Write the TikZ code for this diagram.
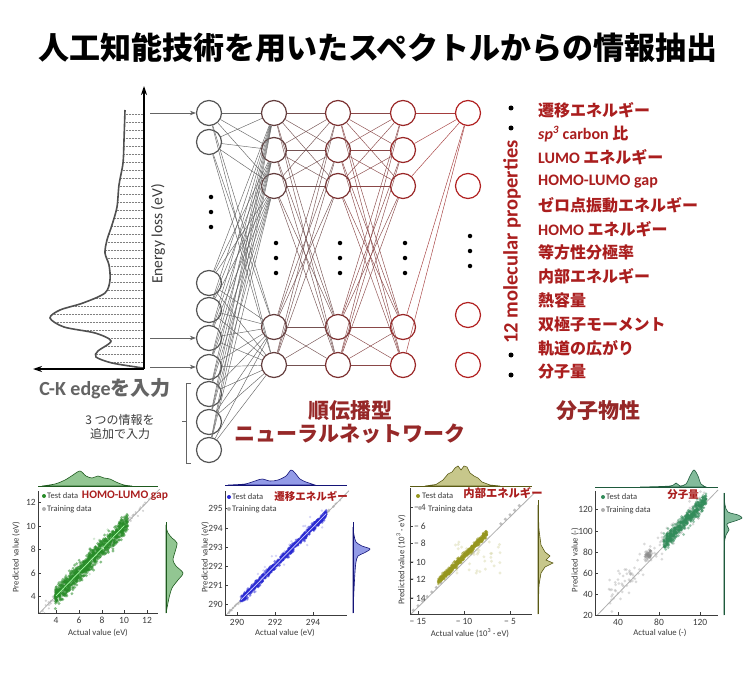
\documentclass[tikz,border=0pt]{standalone}
\usepackage{fontspec}
\setmainfont{Carlito}
\newfontfamily\jp{Noto Sans CJK JP}
\usetikzlibrary{arrows.meta}
\definecolor{c1}{RGB}{85,85,85}
\definecolor{c2}{RGB}{100,62,62}
\definecolor{c3}{RGB}{125,50,50}
\definecolor{c4}{RGB}{155,40,40}
\definecolor{c5}{RGB}{178,34,34}
\definecolor{propred}{RGB}{170,30,30}
\definecolor{netred}{RGB}{150,40,40}
\definecolor{ckgray}{RGB}{100,100,100}
\definecolor{axgray}{RGB}{60,60,60}
\definecolor{trgray}{RGB}{175,175,175}
\definecolor{tgreen}{RGB}{40,140,40}
\definecolor{mgreen}{RGB}{110,180,110}
\definecolor{dgreen}{RGB}{30,90,30}
\definecolor{tblue}{RGB}{40,40,210}
\definecolor{mblue}{RGB}{120,130,225}
\definecolor{dblue}{RGB}{20,20,120}
\definecolor{tolive}{RGB}{150,150,30}
\definecolor{molive}{RGB}{185,185,110}
\definecolor{dolive}{RGB}{90,90,20}
\definecolor{tsea}{RGB}{50,140,90}
\definecolor{msea}{RGB}{100,170,130}
\definecolor{dsea}{RGB}{30,90,60}
\tikzset{
 neuron/.style={circle, draw, fill=white, line width=1.2pt, minimum size=25pt, inner sep=0pt},
 wire/.style={line width=0.45pt},
 proptext/.style={anchor=west, inner sep=0pt, text=propred, font=\fontsize{16}{16}\selectfont\bfseries},
 ticklab/.style={font=\fontsize{9.5}{9.5}\selectfont, text=axgray, inner sep=1pt},
 axlab/.style={font=\fontsize{8.7}{8.7}\selectfont, text=axgray, inner sep=0pt},
 legtext/.style={anchor=west, font=\fontsize{8.5}{8.5}\selectfont, text=axgray, inner sep=0pt},
 ptitle/.style={text=propred, inner sep=0pt},
 nnarrow/.style={-{Stealth[length=6pt,width=4.5pt]}, line width=0.8pt, draw=ckgray},
 bullet/.style={circle, fill=black, inner sep=0pt, minimum size=5pt},
 ndot/.style={circle, fill=black, inner sep=0pt, minimum size=4.5pt},
 axline/.style={draw=axgray, line width=0.7pt},
}
\begin{document}
\begin{tikzpicture}[x=1pt,y=-1pt]
\useasboundingbox (0,0) rectangle (750,682);
\fill[white] (0,0) rectangle (750,682);
\pgfmathsetseed{7}

% ---------------- title
\node (title) at (378,48) {\fontsize{31}{31}\jp\bfseries 人工知能技術を用いたスペクトルからの情報抽出};

% ---------------- spectrum
\begin{scope}
\clip plot[smooth] coordinates {(125,110) (124,140) (123,163) (119,185) (117,207) (112,225) (107,240) (105,253) (109,265) (110,280) (105,293) (83,303) (60,310) (50,318) (64,327) (95,333) (111,341) (98,351) (96,357) (112,363) (143,368)} -- (144,368) -- (144,110) -- cycle;
\foreach \yy in {114,122,...,366} \draw[gray, densely dotted, line width=0.5pt] (40,\yy) -- (144,\yy);
\end{scope}
\draw[ckgray!80!black, line width=1.6pt] plot[smooth] coordinates {(125,110) (124,140) (123,163) (119,185) (117,207) (112,225) (107,240) (105,253) (109,265) (110,280) (105,293) (83,303) (60,310) (50,318) (64,327) (95,333) (111,341) (98,351) (96,357) (112,363) (143,368)};
\coordinate (origin) at (144,369);
\coordinate (ytip) at (144,86);
\coordinate (xtip) at (33,369);
\draw[-{Stealth[length=9pt,width=6pt]}, line width=1.3pt] (origin) -- (ytip);
\draw[-{Stealth[length=9pt,width=6pt]}, line width=1.3pt] (origin) -- (xtip);
\node[rotate=90, font=\fontsize{15.5}{15.5}\selectfont, text=axgray, inner sep=0pt] (elabel) at (158,234) {Energy loss (eV)};

% ---------------- network nodes
\foreach \y [count=\i] in {113,142,283,310,338,367,394,422,450}
  \node[neuron, draw=c1] (n1-\i) at (209,\y) {};
\foreach \y [count=\i] in {113,150,186,327,365}{
  \node[neuron, draw=c2] (n2-\i) at (274,\y) {};
  \node[neuron, draw=c3] (n3-\i) at (338,\y) {};
  \node[neuron, draw=c4] (n4-\i) at (403,\y) {};
}
\foreach \y [count=\i] in {113,186,315,365}
  \node[neuron, draw=c5] (n5-\i) at (468,\y) {};

% wires
\foreach \i in {1,...,9} \foreach \j in {1,...,5} \draw[wire, draw=c1!90] (n1-\i) -- (n2-\j);
\foreach \i in {1,...,5} \foreach \j in {1,...,5} \draw[wire, draw=c2!90] (n2-\i) -- (n3-\j);
\foreach \i in {1,...,5} \foreach \j in {1,...,5} \draw[wire, draw=c3!90] (n3-\i) -- (n4-\j);
\foreach \i in {1,...,5} \draw[wire, draw=c4!90] (n4-\i) -- (n5-1);

% dots
\foreach \y in {197,212,227} \node[ndot] at (211,\y) {};
\foreach \x in {276,340,405} \foreach \y in {243,258,273} \node[ndot] at (\x,\y) {};
\foreach \y in {236,251,266} \node[ndot] at (470,\y) {};

% input arrows
\coordinate (a1) at (150,113);
\coordinate (a2) at (150,338);
\coordinate (a3) at (150,367);
\draw[nnarrow] (a1) -- (n1-1);
\draw[nnarrow] (a2) -- (n1-5);
\draw[nnarrow] (a3) -- (n1-6);

% input labels
\node[font=\fontsize{20}{20}\selectfont\bfseries, text=ckgray, inner sep=0pt] (ck) at (105,389) {C-K edge{\jp を入力}};
\draw[ckgray, line width=0.9pt] (191,383) -- (186,383) -- (186,463) -- (191,463);
\draw[ckgray, line width=0.9pt] (186,421) -- (182,421);
\node[font=\fontsize{12}{14.5}\selectfont\jp, text=axgray, align=center, inner sep=0pt] (extra) at (120,427) {3 つの情報を\\追加で入力};

\node[font=\fontsize{21}{21}\jp\bfseries, text=netred, inner sep=0pt] (nn1) at (350,411) {順伝播型};
\node[font=\fontsize{21}{21}\jp\bfseries, text=netred, inner sep=0pt] (nn2) at (350,434) {ニューラルネットワーク};
\node[font=\fontsize{21}{21}\jp\bfseries, text=netred, inner sep=0pt] (mol) at (598,411) {分子物性};

% ---------------- properties
\foreach \y in {108,128,355,375} \node[bullet] at (511,\y) {};
\node[rotate=90, font=\fontsize{20.5}{20.5}\selectfont\bfseries, text=propred, inner sep=0pt] (mp) at (512,242) {12 molecular properties};
\node[proptext] (p1) at (538,110) {\jp 遷移エネルギー};
\node[proptext] (p2) at (538,133.8) {\itshape sp\textsuperscript{3}\upshape{} carbon {\jp 比}};
\node[proptext] (p3) at (538,157.6) {LUMO {\jp エネルギー}};
\node[proptext] (p4) at (538,181.4) {HOMO-LUMO gap};
\node[proptext] (p5) at (538,205.2) {\jp ゼロ点振動エネルギー};
\node[proptext] (p6) at (538,229) {HOMO {\jp エネルギー}};
\node[proptext] (p7) at (538,252.8) {\jp 等方性分極率};
\node[proptext] (p8) at (538,276.6) {\jp 内部エネルギー};
\node[proptext] (p9) at (538,300.4) {\jp 熱容量};
\node[proptext] (p10) at (538,324.2) {\jp 双極子モーメント};
\node[proptext] (p11) at (538,348) {\jp 軌道の広がり};
\node[proptext] (p12) at (538,371.8) {\jp 分子量};

% ================= PLOT 1 : HOMO-LUMO gap
\begin{scope}
\clip (38,489) rectangle (160,613);
\draw[trgray, line width=0.8pt] (38,614.6) -- (160,488.8);
\foreach \i in {1,...,110}{
 \pgfmathsetmacro\a{2.8+9.6*rnd}
 \pgfmathsetmacro\p{\a+0.5*(rnd+rnd+rnd-1.5)}
 \fill[trgray, opacity=0.55] ({56+(\a-4)*11.4},{596-(\p-4)*11.75}) circle (1.2);
}
\foreach \i in {1,...,1000}{
 \pgfmathsetmacro\a{3.9+6.4*rnd}
 \pgfmathsetmacro\p{\a+0.7*(rnd+rnd+rnd+rnd-2)}
 \fill[tgreen, opacity=0.55] ({56+(\a-4)*11.4},{596-(\p-4)*11.75}) circle (1.6);
}
\foreach \i in {1,...,40}{
 \pgfmathsetmacro\a{4+6*rnd}
 \pgfmathsetmacro\p{\a+1.6*(rnd+rnd-1)}
 \fill[tgreen!60, opacity=0.35] ({56+(\a-4)*11.4},{596-(\p-4)*11.75}) circle (1.3);
}
\draw[green!35!white, line width=0.7pt] (56,596) -- (124.4,525.5);
\end{scope}
\draw[axline] (38,491) -- (38,613) -- (158,613);
\foreach \v/\y in {12/502,10/526,8/549,6/573,4/596}{
  \draw[axline] (38,\y) -- (41,\y);
  \node[ticklab, anchor=east] at (37,\y) {\v};}
\foreach \v/\x in {4/56,6/79,8/102,10/124,12/147}{
  \draw[axline] (\x,613) -- (\x,610);
  \node[ticklab, anchor=north] at (\x,616) {\v};}
\node[axlab] (x1) at (98,633) {Actual value (eV)};
\node[axlab, rotate=90] (y1) at (16,557) {Predicted value (eV)};
\fill[tgreen] (44,496) circle (2);
\node[legtext] at (47,496) {Test data};
\fill[trgray] (44,509) circle (2);
\node[legtext] at (47,509) {Training data};
\node[ptitle, font=\fontsize{11.5}{11.5}\selectfont\bfseries] (t1) at (125,496) {HOMO-LUMO gap};
\filldraw[fill=mgreen, fill opacity=0.75, draw=dgreen, line width=0.6pt] plot[smooth] coordinates {(42,486) (55,484) (65,480) (73,475) (80,471) (86,476) (92,478) (98,476) (104,478) (110,479) (116,482) (124,485) (132,486)} -- cycle;
\draw[draw=dgreen, line width=0.7pt] (38,486) -- (158,486);
\filldraw[fill=mgreen, fill opacity=0.75, draw=dgreen, line width=0.6pt] plot[smooth] coordinates {(166,527) (168,533) (172,538) (177,543) (175,552) (173,560) (176,566) (183,573) (178,580) (172,588) (169,598) (167,608) (166,613)} -- cycle;
\draw[draw=dgreen, line width=0.7pt] (166,522) -- (166,613);

% ================= PLOT 2 : transition energy
\begin{scope}
\clip (225,489) rectangle (349,615);
\draw[trgray, line width=0.8pt] (225,616.1) -- (349,490.7);
\foreach \i in {1,...,90}{
 \pgfmathsetmacro\a{289.4+6.2*rnd}
 \pgfmathsetmacro\p{\a+0.12*(rnd+rnd+rnd-1.5)}
 \fill[trgray, opacity=0.55] ({237+(\a-290)*19},{604-(\p-290)*19.2}) circle (1.2);
}
\foreach \i in {1,...,900}{
 \pgfmathsetmacro\a{290.2+4.5*rnd}
 \pgfmathsetmacro\p{\a+0.17*(rnd+rnd+rnd+rnd-2)}
 \fill[tblue, opacity=0.55] ({237+(\a-290)*19},{604-(\p-290)*19.2}) circle (1.5);
}
\foreach \i in {1,...,30}{
 \pgfmathsetmacro\a{290.5+4*rnd}
 \pgfmathsetmacro\p{\a+0.8*(rnd+rnd-1)}
 \fill[tblue!50, opacity=0.4] ({237+(\a-290)*19},{604-(\p-290)*19.2}) circle (1.3);
}
\draw[white!80!blue, line width=0.7pt] (240.8,600.2) -- (326.3,513.6);
\end{scope}
\draw[axline] (225,491) -- (225,615) -- (347,615);
\foreach \v/\y in {295/508,294/528,293/547,292/566,291/585,290/604}{
  \draw[axline] (225,\y) -- (228,\y);
  \node[ticklab, anchor=east] at (224,\y) {\v};}
\foreach \v/\x in {290/237,292/275,294/313}{
  \draw[axline] (\x,615) -- (\x,612);
  \node[ticklab, anchor=north] at (\x,618) {\v};}
\node[axlab] (x2) at (285,633) {Actual value (eV)};
\node[axlab, rotate=90] (y2) at (205,557) {Predicted value (eV)};
\fill[tblue] (229,497) circle (2);
\node[legtext] at (232,497) {Test data};
\fill[trgray] (229,509) circle (2);
\node[legtext] at (232,509) {Training data};
\node[ptitle, font=\fontsize{10.5}{10.5}\jp\bfseries] (t2) at (311,496) {遷移エネルギー};
\filldraw[fill=mblue, fill opacity=0.8, draw=dblue, line width=0.6pt] plot[smooth] coordinates {(228,485) (245,484) (255,481) (262,479) (270,481) (278,480) (286,476) (291,470) (295,473) (300,479) (306,482) (315,485)} -- cycle;
\draw[draw=dblue, line width=0.7pt] (225,485) -- (347,485);
\filldraw[fill=mblue, fill opacity=0.8, draw=dblue, line width=0.6pt] plot[smooth] coordinates {(353,527) (354,535) (356,542) (362,546) (370,549) (364,553) (358,556) (356,562) (355,572) (354,590) (353,613)} -- cycle;
\draw[draw=dblue, line width=0.7pt] (353,522) -- (353,613);

% ================= PLOT 3 : internal energy
\begin{scope}
\clip (410,487) rectangle (534,614);
\draw[trgray, line width=0.8pt] (410,615) -- (534,493.4);
\foreach \a in {-15.5,-15,-14.5,-14,-13.5,-13,-12.5,-6,-5.5,-5,-4.5,-4}{
 \fill[trgray, opacity=0.8] ({418+(\a+15)*9.2},{507-(\a+0.15+4)*9.1}) circle (1.7);
}
\foreach \i in {1,...,40}{
 \pgfmathsetmacro\a{-11+6*rnd}
 \pgfmathsetmacro\p{-7.5-4*rnd}
 \fill[tolive!45, opacity=0.4] ({418+(\a+15)*9.2},{507-(\p+4)*9.1}) circle (1.6);
}
\foreach \i in {1,...,550}{
 \pgfmathsetmacro\a{-12.8+5.3*rnd}
 \pgfmathsetmacro\p{\a+0.6+0.3*(rnd+rnd+rnd+rnd-2)}
 \fill[tolive, opacity=0.55] ({418+(\a+15)*9.2},{507-(\p+4)*9.1}) circle (1.5);
}
\end{scope}
\draw[axline] (410,488) -- (410,614) -- (532,614);
\foreach \v/\y in {4/507,6/526,8/543,10/562,12/579,14/598}{
  \draw[axline] (410,\y) -- (413,\y);
  \node[ticklab, anchor=east] at (427,\y) {− \v};}
\foreach \v/\x in {15/418,10/464,5/510}{
  \draw[axline] (\x,614) -- (\x,611);
  \node[ticklab, anchor=north] at (\x,617) {− \v};}
\node[axlab] (x3) at (470,633) {Actual value (10\textsuperscript{3} · eV)};
\node[axlab, rotate=90] (y3) at (401,560) {Predicted value (10\textsuperscript{3} · eV)};
\fill[tolive] (418,496) circle (2);
\node[legtext] at (422,496) {Test data};
\fill[trgray] (420,508) circle (2);
\node[legtext] at (428,509) {Training data};
\node[ptitle, font=\fontsize{11.3}{11.3}\jp\bfseries] (t3) at (503,493) {内部エネルギー};
\filldraw[fill=molive, fill opacity=0.8, draw=dolive, line width=0.6pt] plot coordinates {(425,486) (436,484.5) (443,480) (448,474) (452,472) (455,468) (458,466) (461,470) (464,466) (467,467) (470,473) (474,476) (478,478) (482,482) (490,485) (500,486)} -- cycle;
\draw[draw=dolive, line width=0.7pt] (410,486) -- (532,486);
\filldraw[fill=molive, fill opacity=0.8, draw=dolive, line width=0.6pt] plot coordinates {(538,505) (539,530) (541,545) (545,552) (550,556) (546,560) (553,563) (545,567) (541,573) (539,585) (538,614)} -- cycle;
\draw[draw=dolive, line width=0.7pt] (538,500) -- (538,614);

% ================= PLOT 4 : molecular weight
\begin{scope}
\clip (595,489) rectangle (720,615);
\draw[trgray, line width=0.8pt] (595,617.5) -- (718,490);
\foreach \i in {1,...,130}{
 \pgfmathsetmacro\a{30+95*rnd}
 \pgfmathsetmacro\p{\a+6+14*(rnd+rnd+rnd-1.5)}
 \fill[trgray, opacity=0.45] ({618+(\a-40)*1.025},{615-(\p-20)*1.06}) circle (1.5);
}
\foreach \i in {1,...,40}{
 \pgfmathsetmacro\a{70+5*(rnd+rnd-1)}
 \pgfmathsetmacro\p{77+5*(rnd+rnd-1)}
 \fill[trgray!80!black, opacity=0.45] ({618+(\a-40)*1.025},{615-(\p-20)*1.06}) circle (1.5);
}
\foreach \i in {1,...,550}{
 \pgfmathsetmacro\a{84+42*rnd}
 \pgfmathsetmacro\p{\a+3+6*(rnd+rnd+rnd+rnd-2)}
 \fill[tsea, opacity=0.5] ({618+(\a-40)*1.025},{615-(\p-20)*1.06}) circle (1.5);
}
\end{scope}
\draw[axline] (595,491) -- (595,615) -- (718,615);
\foreach \v/\y in {120/509,100/531,80/552,60/573,40/594,20/615}{
  \draw[axline] (595,\y) -- (598,\y);
  \node[ticklab, anchor=east] at (594,\y) {\v};}
\foreach \v/\x in {40/618,80/659,120/700}{
  \draw[axline] (\x,615) -- (\x,612);
  \node[ticklab, anchor=north] at (\x,618) {\v};}
\node[axlab] (x4) at (660,633) {Actual value (-)};
\node[axlab, rotate=90] (y4) at (575,560) {Predicted value (-)};
\fill[tsea] (603,497) circle (2);
\node[legtext] at (606,497) {Test data};
\fill[trgray] (603,510) circle (2);
\node[legtext] at (606,510) {Training data};
\node[ptitle, font=\fontsize{10.5}{10.5}\jp\bfseries] (t4) at (683,495) {分子量};
\filldraw[fill=msea, fill opacity=0.8, draw=dsea, line width=0.6pt] plot[smooth] coordinates {(640,487) (670,486) (676,483) (680,486) (686,484) (690,476) (694,470) (698,476) (701,484) (706,487)} -- cycle;
\draw[draw=dsea, line width=0.7pt] (595,487) -- (718,487);
\filldraw[fill=msea, fill opacity=0.8, draw=dsea, line width=0.6pt] plot[smooth] coordinates {(724,493) (725,505) (728,512) (738,515) (742,518) (735,521) (727,524) (729,530) (726,535) (724,550) (724,615)} -- cycle;
\draw[draw=dsea, line width=0.7pt] (724,493) -- (724,615);
\end{tikzpicture}
\end{document}
